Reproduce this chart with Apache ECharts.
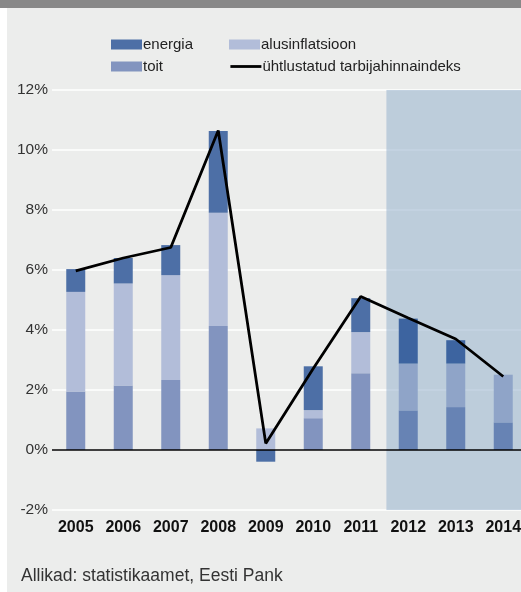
<!DOCTYPE html>
<html>
<head>
<meta charset="utf-8">
<script src="https://cdn.jsdelivr.net/npm/echarts@6/dist/echarts.min.js"></script>
<style>
  html, body { margin: 0; padding: 0; background: #ecedec; overflow: hidden; }
  /* joonis on aknast veidi laiem, parem serv lõigatakse ära nagu originaalis */
  #myChart { width: 527px; height: 592px; }
</style>
</head>
<body>
<div id="myChart"></div>
<script>
// andmed
var years = ['2005', '2006', '2007', '2008', '2009', '2010', '2011', '2012', '2013', '2014'];
var toit = [1.95, 2.15, 2.33, 4.13, 0, 1.06, 2.56, 1.32, 1.43, 0.92];
var alusinflatsioon = [3.32, 3.40, 3.50, 3.78, 0.72, 0.27, 1.37, 1.56, 1.45, 1.59];
var energia = [0.76, 0.85, 1.00, 2.72, -0.39, 1.46, 1.13, 1.50, 0.78, 0];
var hicp = [5.97, 6.40, 6.75, 10.65, 0.22, 2.72, 5.12, 4.40, 3.70, 2.45];
var forecastFrom = 7;      // 2012 alates prognoos
var forecastEdge = 6.54;   // varjutuse algus (kategooria indeksites)

var FONT = 'Liberation Sans, Arial, sans-serif';

// prognoosiaastad tumedamad
function withForecast(values, normal, dark) {
    return values.map(function (v, i) {
        return {
            value: v,
            itemStyle: { color: i >= forecastFrom ? dark : normal }
        };
    });
}

function legendBox(name, left, top, isLine) {
    var lg = {
        data: [name],
        left: left,
        top: top,
        padding: 0,
        itemWidth: 31,
        itemHeight: 10,
        selectedMode: false,
        textStyle: { color: '#222', fontSize: 15, fontFamily: FONT, padding: [0, 0, 0, -4] }
    };
    if (isLine) {
        lg.itemStyle = { opacity: 0 };
        lg.lineStyle = { color: '#000', width: 2.8 };
    } else {
        lg.icon = 'rect';
    }
    return lg;
}

var myChart = echarts.init(document.getElementById('myChart'));
var option = {
    backgroundColor: '#ecedec',
    animation: false,
    legend: [
        legendBox('energia', 111, 37),
        legendBox('alusinflatsioon', 229, 37),
        legendBox('toit', 111, 59),
        legendBox('ühtlustatud tarbijahinnaindeks', 229, 59, true)
    ],
    graphic: [
        { type: 'rect', left: 0, top: 0, shape: { width: 527, height: 8 }, style: { fill: '#888888' }, silent: true },
        { type: 'rect', left: 0, top: 8, shape: { width: 7, height: 584 }, style: { fill: '#ffffff' }, silent: true },
        {
            type: 'text', left: 21, top: 567, silent: true,
            style: { text: 'Allikad: statistikaamet, Eesti Pank', fill: '#333', fontSize: 17.5, fontFamily: FONT }
        }
    ],
    grid: {
        left: 52,
        top: 90,
        right: 0,
        height: 420
    },
    xAxis: [
        {
            type: 'category',
            data: years,
            axisLine: { show: false, onZero: false },
            axisTick: { show: false },
            axisLabel: { color: '#111', fontSize: 16, fontWeight: 'bold', fontFamily: FONT, margin: 10, interval: 0 }
        },
        {
            type: 'value',
            min: -0.5,
            max: 9.5,
            show: false
        }
    ],
    yAxis: {
        type: 'value',
        min: -2,
        max: 12,
        interval: 2,
        axisLine: { show: false },
        axisTick: { show: false },
        axisLabel: { color: '#333', fontSize: 15.5, fontFamily: FONT, margin: 4, formatter: '{value}%' },
        splitLine: { show: true, lineStyle: { color: '#ffffff', width: 1.5 } }
    },
    series: [
        {
            // prognoosi varjutus
            type: 'line',
            xAxisIndex: 1,
            data: [],
            z: 1,
            silent: true,
            markArea: {
                silent: true,
                itemStyle: { color: 'rgba(159,184,208,0.6)' },
                data: [[{ xAxis: forecastEdge, yAxis: 12.07 }, { xAxis: 9.5, yAxis: -2 }]]
            }
        },
        {
            name: 'toit',
            type: 'bar',
            stack: 'hicp',
            barWidth: 19,
            z: 2,
            itemStyle: { color: '#8294bf' },
            data: withForecast(toit, '#8294bf', '#6783b4')
        },
        {
            name: 'alusinflatsioon',
            type: 'bar',
            stack: 'hicp',
            barWidth: 19,
            z: 2,
            itemStyle: { color: '#b2bdd9' },
            data: withForecast(alusinflatsioon, '#b2bdd9', '#8fa4c8')
        },
        {
            name: 'energia',
            type: 'bar',
            stack: 'hicp',
            barWidth: 19,
            z: 2,
            itemStyle: { color: '#4d6fa6' },
            data: withForecast(energia, '#4d6fa6', '#3d64a0'),
            markLine: {
                silent: true,
                symbol: 'none',
                label: { show: false },
                lineStyle: { color: '#000', width: 1.5, type: 'solid' },
                data: [{ yAxis: 0 }]
            }
        },
        {
            name: 'ühtlustatud tarbijahinnaindeks',
            type: 'line',
            z: 5,
            symbol: 'none',
            lineStyle: { color: '#000', width: 2.8 },
            itemStyle: { color: '#000' },
            data: hicp
        }
    ]
};
myChart.setOption(option);
</script>
</body>
</html>
